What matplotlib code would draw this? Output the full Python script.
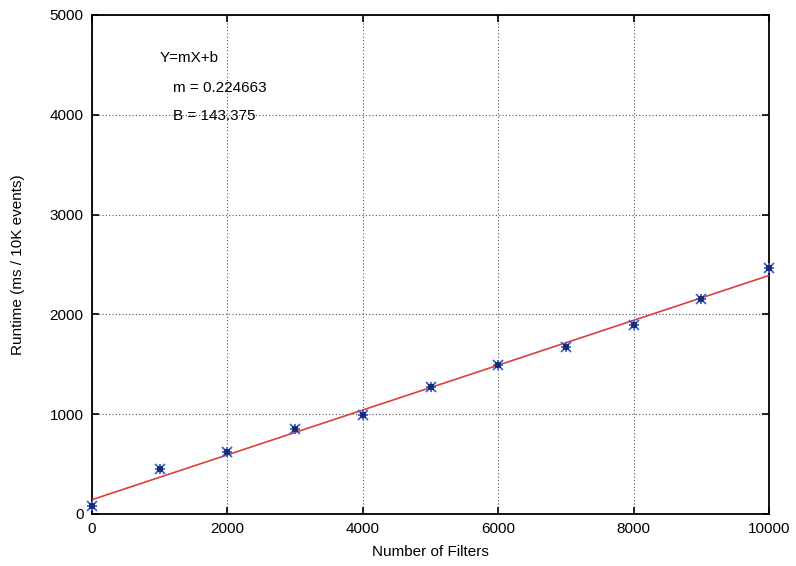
import numpy as np
import matplotlib
matplotlib.use("Agg")
import matplotlib.pyplot as plt

plt.rcParams["font.family"] = ["Liberation Sans", "DejaVu Sans"]

# ----- Data -----
filters = [0, 1000, 2000, 3000, 4000, 5000, 6000, 7000, 8000, 9000, 10000]
runtime = [80, 455, 625, 855, 995, 1270, 1495, 1670, 1893, 2158, 2465]

# Linear fit parameters shown on the chart
slope = 0.224663
intercept = 143.375

x_ticks = [0, 2000, 4000, 6000, 8000, 10000]
y_ticks = [0, 1000, 2000, 3000, 4000, 5000]

fig = plt.figure(figsize=(7.96, 5.66), dpi=100)
ax = fig.add_axes([0.1156, 0.0919, 0.8505, 0.8816])

# fitted line
fit_x = np.array([filters[0], filters[-1]])
ax.plot(fit_x, slope * fit_x + intercept, color="#d9403a", lw=1.2, zorder=3)

# measurements (gnuplot-style asterisk points)
for mk, ms, col in [("x", 7, "#3b63d6"), ("+", 7, "#3b63d6"), ("s", 2.8, "#1a2a70")]:
    ax.plot(filters, runtime, linestyle="none", marker=mk, ms=ms, mew=1.3,
            color=col, zorder=5, clip_on=False)

ax.set_xlim(0, 10000)
ax.set_ylim(0, 5000)
ax.set_xticks(x_ticks)
ax.set_yticks(y_ticks)
ax.grid(True, linestyle=(0, (1, 2)), color="#555555", lw=0.8)
ax.tick_params(direction="in", length=5, width=1.2, top=True, right=True,
               labelsize=11, pad=6)
for sp in ax.spines.values():
    sp.set_linewidth(1.3)

ax.set_xlabel("Number of Filters", fontsize=11, labelpad=6)
ax.set_ylabel("Runtime (ms / 10K events)", fontsize=11, labelpad=18)

ax.text(1000, 4570, "Y=mX+b", fontsize=11, va="center")
ax.text(1190, 4270, "m = 0.224663", fontsize=11, va="center")
ax.text(1190, 3990, "B = 143.375", fontsize=11, va="center")

fig.savefig("out.png", dpi=100)
